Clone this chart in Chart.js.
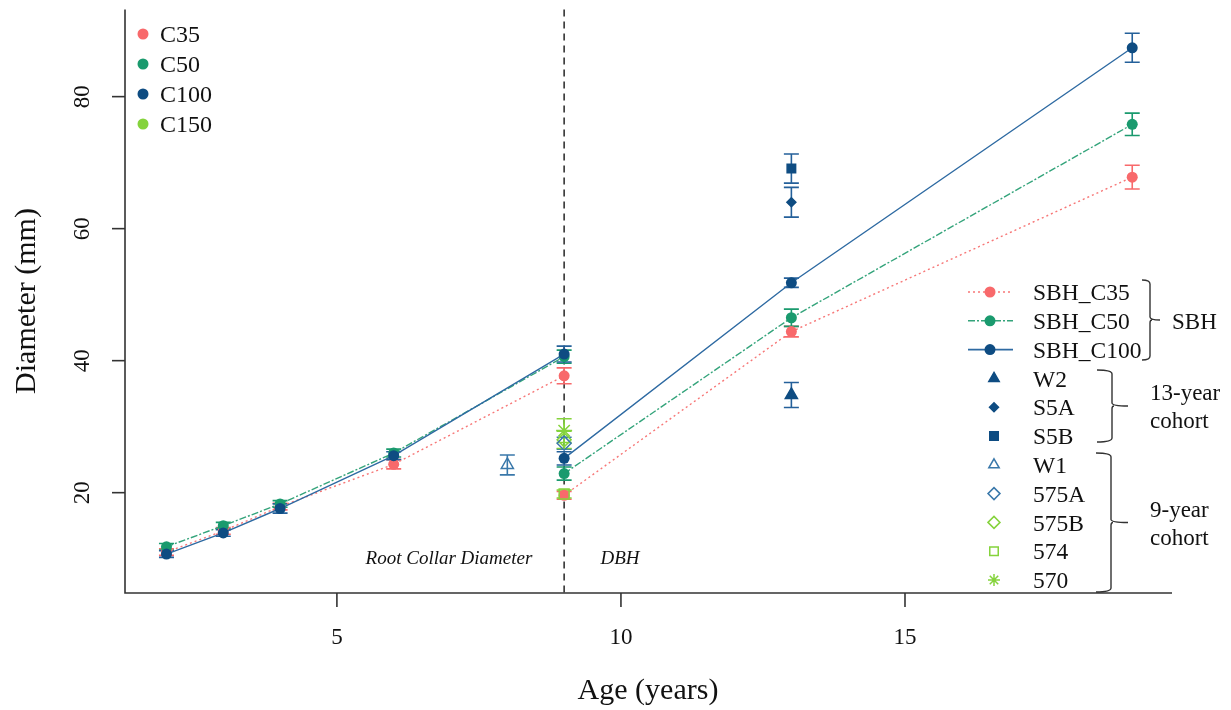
<!DOCTYPE html>
<html>
<head>
<meta charset="utf-8">
<title>Diameter by age</title>
<script src="https://cdn.jsdelivr.net/npm/chart.js@4.4.1/dist/chart.umd.min.js"></script>
<style>
  html, body { margin: 0; padding: 0; background: #fff; }
  #wrap { width: 1231px; height: 710px; position: relative; }
</style>
</head>
<body>
<div id="wrap"><canvas id="chart" width="1231" height="710"></canvas></div>
<script>
// --- data ---
const sbhAge = [2, 3, 4, 6, 9, 9, 13, 19];
const sbhPhase = ['RCD', 'RCD', 'RCD', 'RCD', 'RCD', 'DBH', 'DBH', 'DBH'];
const c35Mean = [11.0, 14.2, 17.9, 24.3, 37.7, 19.6, 44.4, 67.8];
const c35Sd = [0.5, 0.5, 0.5, 0.7, 1.2, 0.6, 0.8, 1.8];
const c50Mean = [11.8, 15.0, 18.3, 26.0, 40.6, 22.9, 46.5, 75.8];
const c50Sd = [0.5, 0.5, 0.5, 0.6, 1.0, 1.0, 1.3, 1.7];
const c100Mean = [10.7, 13.9, 17.6, 25.6, 41.0, 25.2, 51.8, 87.4];
const c100Sd = [0.5, 0.5, 0.7, 0.6, 1.2, 1.0, 0.7, 2.2];

const cohortNames = ['W2', 'S5A', 'S5B', 'W1', '575A', '575B', '574', '570'];
const cohortAge = [13, 13, 13, 8, 9, 9, 9, 9];
const cohortMean = [34.8, 64.0, 69.1, 24.2, 27.5, 28.0, 19.8, 29.4];
const cohortSd = [1.9, 2.25, 2.2, 1.5, 0.9, 1.3, 0.6, 1.8];

const classNames = ['C35', 'C50', 'C100', 'C150'];
const xTicks = [5, 10, 15];
const yTicks = [20, 40, 60, 80];

const RED = '#f8696b', GREEN = '#1a9a6e', BLUE = '#0e4c82', LIME = '#85d33c', LBLUE = '#3a78aa';
const classColors = [RED, GREEN, BLUE, LIME];
const SERIF = '"Liberation Serif", "Times New Roman", serif';

const pts = (xs, ys) => xs.map((x, i) => ({ x: x, y: ys[i] }));
const breakAtPhase = (ctx) => sbhPhase[ctx.p0DataIndex] !== sbhPhase[ctx.p1DataIndex] ? 'rgba(0,0,0,0)' : undefined;

function sbhSet(label, mean, sd, color, lineColor, dash, barColor, order) {
  return {
    label: label, data: pts(sbhAge, mean), sd: sd, barColor: barColor, order: order,
    showLine: true, borderColor: lineColor, backgroundColor: color, borderWidth: 1.4,
    borderDash: dash, pointRadius: 5.5, pointBorderWidth: 0, pointStyle: 'circle',
    pointBackgroundColor: color,
    segment: { borderColor: breakAtPhase }
  };
}

const cohortStyle = {
  W2: { style: 'triangle', fill: BLUE, stroke: BLUE, r: 7 },
  S5A: { style: 'rectRot', fill: BLUE, stroke: BLUE, r: 4.5 },
  S5B: { style: 'rect', fill: BLUE, stroke: BLUE, r: 6 },
  W1: { style: 'triangle', fill: 'rgba(0,0,0,0)', stroke: LBLUE, r: 7 },
  '575A': { style: 'rectRot', fill: 'rgba(0,0,0,0)', stroke: LBLUE, r: 7 },
  '575B': { style: 'rectRot', fill: 'rgba(0,0,0,0)', stroke: LIME, r: 7 },
  '574': { style: 'rect', fill: 'rgba(0,0,0,0)', stroke: LIME, r: 7 },
  '570': { style: 'star', fill: LIME, stroke: LIME, r: 8 }
};

const cohortSets = cohortNames.map((name, i) => ({
  label: name, data: [{ x: cohortAge[i], y: cohortMean[i] }], sd: [cohortSd[i]],
  barColor: cohortStyle[name].stroke === BLUE ? '#24609a' : cohortStyle[name].stroke,
  showLine: false, pointStyle: cohortStyle[name].style, pointRadius: cohortStyle[name].r,
  backgroundColor: cohortStyle[name].fill, borderColor: cohortStyle[name].stroke,
  pointBorderWidth: 1.5, order: 0
}));

const datasets = [
  sbhSet('SBH_C35', c35Mean, c35Sd, RED, '#f77777', [2, 3], RED, 3),
  sbhSet('SBH_C50', c50Mean, c50Sd, GREEN, '#34a47b', [7, 2, 2, 2], GREEN, 2),
  sbhSet('SBH_C100', c100Mean, c100Sd, BLUE, '#2e6aa2', [], '#24609a', 1)
].concat(cohortSets);

// error bars + the RCD/DBH divider, drawn under the markers
const errorBars = {
  id: 'errorBars',
  beforeDatasetsDraw(chart) {
    const { ctx, scales: { x, y }, chartArea } = chart;
    ctx.save();
    // divider at age 9
    const xd = x.getPixelForValue(9);
    ctx.strokeStyle = '#333'; ctx.lineWidth = 1.6; ctx.setLineDash([7, 5]);
    ctx.beginPath(); ctx.moveTo(xd, chartArea.top); ctx.lineTo(xd, chartArea.bottom); ctx.stroke();
    ctx.setLineDash([]);
    chart.data.datasets.slice().sort((p, q) => q.order - p.order).forEach((ds) => {
      if (!ds.sd) return;
      ctx.strokeStyle = ds.barColor; ctx.lineWidth = 1.6;
      ds.data.forEach((p, j) => {
        const px = x.getPixelForValue(p.x);
        const top = y.getPixelForValue(p.y + ds.sd[j]);
        const bot = y.getPixelForValue(p.y - ds.sd[j]);
        ctx.beginPath();
        ctx.moveTo(px, top); ctx.lineTo(px, bot);
        ctx.moveTo(px - 7.5, top); ctx.lineTo(px + 7.5, top);
        ctx.moveTo(px - 7.5, bot); ctx.lineTo(px + 7.5, bot);
        ctx.stroke();
      });
    });
    ctx.restore();
  }
};

function bracket(ctx, x, y0, y1, arm, tick) {
  const ym = (y0 + y1) / 2;
  ctx.beginPath();
  ctx.moveTo(x - arm, y0); ctx.quadraticCurveTo(x, y0, x, y0 + 4);
  ctx.lineTo(x, ym - 3); ctx.quadraticCurveTo(x, ym, x + tick, ym);
  ctx.moveTo(x, ym + 3); ctx.lineTo(x, y1 - 4);
  ctx.quadraticCurveTo(x, y1, x - arm, y1);
  ctx.moveTo(x + 2, ym); ctx.quadraticCurveTo(x, ym, x, ym + 3);
  ctx.stroke();
}

// axes, labels, annotations and both legends
const decorations = {
  id: 'decorations',
  afterDraw(chart) {
    const { ctx, scales: { x, y }, chartArea: a } = chart;
    const helpers = Chart.helpers;
    ctx.save();
    ctx.strokeStyle = '#333'; ctx.fillStyle = '#111'; ctx.lineWidth = 1.6;
    ctx.beginPath();
    ctx.moveTo(a.left, a.top); ctx.lineTo(a.left, a.bottom); ctx.lineTo(a.right, a.bottom);
    ctx.stroke();

    ctx.font = '23px ' + SERIF;
    ctx.textAlign = 'center'; ctx.textBaseline = 'middle';
    xTicks.forEach((t) => {
      const px = x.getPixelForValue(t);
      ctx.beginPath(); ctx.moveTo(px, a.bottom); ctx.lineTo(px, a.bottom + 14); ctx.stroke();
      ctx.fillText(String(t), px, a.bottom + 45);
    });
    yTicks.forEach((t) => {
      const py = y.getPixelForValue(t);
      ctx.beginPath(); ctx.moveTo(a.left, py); ctx.lineTo(a.left - 13, py); ctx.stroke();
      ctx.save(); ctx.translate(a.left - 42, py); ctx.rotate(-Math.PI / 2);
      ctx.fillText(String(t), 0, 0); ctx.restore();
    });

    ctx.font = '30px ' + SERIF;
    ctx.fillText('Age (years)', 648, 691);
    ctx.save(); ctx.translate(27, 301); ctx.rotate(-Math.PI / 2);
    ctx.fillText('Diameter (mm)', 0, 0); ctx.restore();

    ctx.font = 'italic 19px ' + SERIF;
    ctx.fillText('Root Collar Diameter', 449, 559);
    ctx.fillText('DBH', 620, 559);

    // class legend, top left
    ctx.font = '24px ' + SERIF; ctx.textAlign = 'left';
    classNames.forEach((n, i) => {
      const ly = 34 + i * 30;
      ctx.fillStyle = classColors[i];
      ctx.beginPath(); ctx.arc(143, ly, 5.5, 0, Math.PI * 2); ctx.fill();
      ctx.fillStyle = '#111';
      ctx.fillText(n, 160, ly + 2);
    });

    // series legend, right
    ctx.font = '23.5px ' + SERIF;
    const rowY = (i) => 292 + i * 28.8;
    chart.data.datasets.forEach((ds, i) => {
      const ly = rowY(i);
      if (ds.showLine) {
        ctx.strokeStyle = ds.borderColor; ctx.lineWidth = 1.6; ctx.setLineDash(ds.borderDash);
        ctx.beginPath(); ctx.moveTo(968, ly); ctx.lineTo(1013, ly); ctx.stroke();
        ctx.setLineDash([]);
        ctx.fillStyle = ds.backgroundColor;
        ctx.beginPath(); ctx.arc(990, ly, 5.5, 0, Math.PI * 2); ctx.fill();
      } else {
        ctx.fillStyle = ds.backgroundColor; ctx.strokeStyle = ds.borderColor;
        ctx.lineWidth = 1.5;
        const r = ds.label === 'S5A' ? 4.5 : 6;
        helpers.drawPoint(ctx, { pointStyle: ds.pointStyle, radius: r, rotation: 0, borderWidth: 1.5 }, 994, ly);
      }
      ctx.fillStyle = '#111';
      ctx.fillText(ds.label, 1033, ly + 2);
    });

    ctx.strokeStyle = '#333'; ctx.lineWidth = 1.4;
    bracket(ctx, 1150, 280, 360, 8, 10);
    bracket(ctx, 1112, 370, 442, 15, 16);
    bracket(ctx, 1111, 453, 592, 15, 17);
    ctx.fillStyle = '#111';
    ctx.font = '23px ' + SERIF;
    ctx.fillText('SBH', 1172, 323);
    ctx.fillText('13-year', 1150, 394);
    ctx.fillText('cohort', 1150, 422);
    ctx.fillText('9-year', 1150, 511);
    ctx.fillText('cohort', 1150, 539);
    ctx.restore();
  }
};

new Chart(document.getElementById('chart'), {
  type: 'scatter',
  data: { datasets: datasets },
  options: {
    responsive: false,
    animation: false,
    layout: { padding: { left: 125, right: 59, top: 8, bottom: 117 } },
    scales: {
      x: { type: 'linear', min: 1.27, max: 19.7, display: false },
      y: { type: 'linear', min: 4.8, max: 93.2, display: false }
    },
    plugins: { legend: { display: false }, tooltip: { enabled: false } }
  },
  plugins: [errorBars, decorations]
});
</script>
</body>
</html>
